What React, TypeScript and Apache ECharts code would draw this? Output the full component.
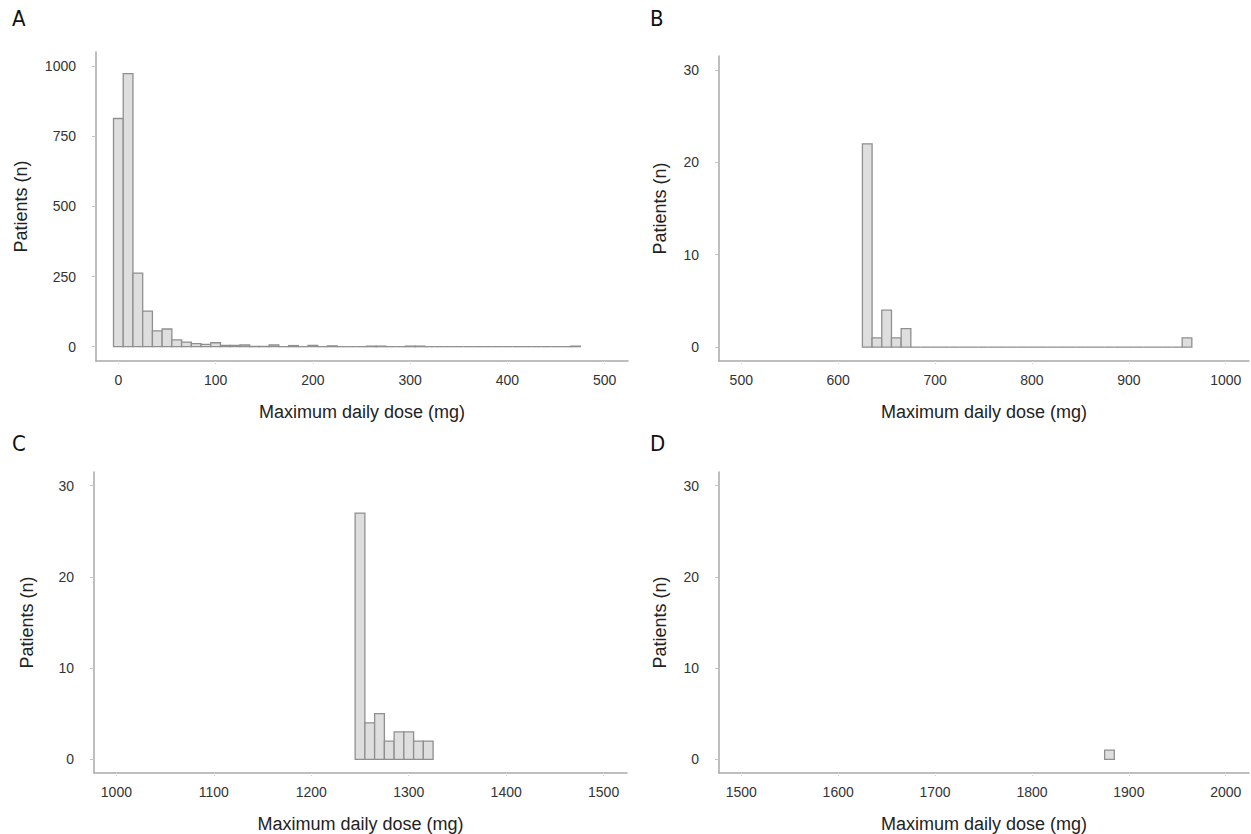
import React, { useEffect, useRef } from "react";
import * as echarts from "echarts";

// Histogram data: bin width 10 mg, bins given by their centre (first bin) and counts
const binWidth = 10;

// Panel A: bins centred at 0, 10, 20, ... 470 mg
const startA = 0;
const countsA = [
  813, 973, 262, 127, 56, 63, 24, 16, 11, 8,
  14, 5, 5, 6, 1, 1, 6, 0, 4, 0,
  5, 0, 3, 0, 0, 0, 2, 2, 0, 0,
  2, 2, 0, 0, 0, 0, 0, 0, 0, 0,
  0, 0, 0, 0, 0, 0, 0, 2,
];

// Panel B: bins centred at 630 ... 960 mg
const startB = 630;
const countsB = [
  22, 1, 4, 1, 2, 0, 0, 0, 0, 0,
  0, 0, 0, 0, 0, 0, 0, 0, 0, 0,
  0, 0, 0, 0, 0, 0, 0, 0, 0, 0,
  0, 0, 0, 1,
];

// Panel C: bins centred at 1250 ... 1320 mg
const startC = 1250;
const countsC = [27, 4, 5, 2, 3, 3, 2, 2];

// Panel D: a single bin centred at 1880 mg
const startD = 1880;
const countsD = [1];

const xTicksA = [0, 100, 200, 300, 400, 500];
const xTicksB = [500, 600, 700, 800, 900, 1000];
const xTicksC = [1000, 1100, 1200, 1300, 1400, 1500];
const xTicksD = [1500, 1600, 1700, 1800, 1900, 2000];
const yTicksA = [0, 250, 500, 750, 1000];
const yTicksBCD = [0, 10, 20, 30];

const panelLetters = ["A", "B", "C", "D"];
const xTitle = "Maximum daily dose (mg)";
const yTitle = "Patients (n)";

const FONT = "'Liberation Sans', Arial, sans-serif";
const LETTER_FONT = "'Liberation Sans Narrow', 'DejaVu Sans Condensed', 'Liberation Sans', sans-serif";
const AXIS_COLOR = "#a9a9a9";
const BAR_FILL = "#dedede";
const BAR_STROKE = "#8f8f8f";

function toBins(start: number, counts: number[]) {
  return counts.map((c, i) => [start + i * binWidth, c]);
}

function renderBin(params: any, api: any) {
  const c = api.value(0) as number;
  const v = api.value(1) as number;
  const p0 = api.coord([c - binWidth / 2, 0]);
  const p1 = api.coord([c + binWidth / 2, v]);
  if (v === 0) {
    return {
      type: "line",
      shape: { x1: p0[0], y1: p0[1], x2: p1[0], y2: p0[1] },
      style: { stroke: BAR_STROKE, lineWidth: 1.3 },
    };
  }
  return {
    type: "rect",
    shape: { x: p0[0], y: p1[1], width: p1[0] - p0[0], height: p0[1] - p1[1] },
    style: { fill: BAR_FILL, stroke: BAR_STROKE, lineWidth: 1.3 },
  };
}

const plain = (v: number) => String(v);

function xAxisFor(gridIndex: number, ticks: number[]) {
  const span = ticks[ticks.length - 1] - ticks[0];
  return {
    type: "value" as const,
    gridIndex,
    min: ticks[0] - span * 0.046,
    max: ticks[ticks.length - 1] + span * 0.048,
    name: xTitle,
    nameLocation: "middle" as const,
    nameGap: 42,
    nameTextStyle: { fontFamily: FONT, fontSize: 18, color: "#222" },
    splitLine: { show: false },
    axisLine: { show: true, onZero: false, lineStyle: { color: AXIS_COLOR, width: 1.5 } },
    axisTick: {
      show: true,
      customValues: ticks,
      length: 4,
      lineStyle: { color: "#cfcfcf", width: 1, type: "dotted" as const },
    },
    axisLabel: {
      customValues: ticks,
      formatter: plain,
      fontFamily: FONT,
      fontSize: 14,
      color: "#333",
      margin: 12,
    },
  };
}

function yAxisFor(gridIndex: number, ticks: number[], min: number, max: number, nameGap: number) {
  return {
    type: "value" as const,
    gridIndex,
    min,
    max,
    name: yTitle,
    nameLocation: "middle" as const,
    nameGap,
    nameTextStyle: { fontFamily: FONT, fontSize: 18, color: "#222" },
    splitLine: { show: false },
    axisLine: { show: true, onZero: false, lineStyle: { color: AXIS_COLOR, width: 1.5 } },
    axisTick: {
      show: true,
      customValues: ticks,
      length: 4,
      lineStyle: { color: "#c4c4c4", width: 1 },
    },
    axisLabel: {
      customValues: ticks,
      formatter: plain,
      fontFamily: FONT,
      fontSize: 14,
      color: "#333",
      margin: 20,
    },
  };
}

export default function App() {
  const ref = useRef<HTMLDivElement>(null);

  useEffect(() => {
    if (!ref.current) return;
    const chart = echarts.init(ref.current, undefined, { renderer: "svg" });

    const grids = [
      { left: 96, top: 52, width: 532, height: 309 },
      { left: 719, top: 56, width: 530, height: 305 },
      { left: 94, top: 472, width: 533, height: 302 },
      { left: 719, top: 472, width: 530, height: 302 },
    ];
    const letterPos = [
      [12, 7],
      [650, 7],
      [12, 432],
      [650, 432],
    ];

    chart.setOption({
      animation: false,
      backgroundColor: "#ffffff",
      title: panelLetters.map((t, i) => ({
        text: t,
        left: letterPos[i][0],
        top: letterPos[i][1],
        padding: 0,
        textStyle: { fontFamily: LETTER_FONT, fontSize: 22, fontWeight: "normal", color: "#111" },
      })),
      grid: grids,
      xAxis: [
        xAxisFor(0, xTicksA),
        xAxisFor(1, xTicksB),
        xAxisFor(2, xTicksC),
        xAxisFor(3, xTicksD),
      ],
      yAxis: [
        yAxisFor(0, yTicksA, -51, 1050, 66),
        yAxisFor(1, yTicksBCD, -1.5, 31.5, 50),
        yAxisFor(2, yTicksBCD, -1.5, 31.5, 58),
        yAxisFor(3, yTicksBCD, -1.5, 31.5, 50),
      ],
      series: [
        { type: "custom", xAxisIndex: 0, yAxisIndex: 0, renderItem: renderBin, data: toBins(startA, countsA) },
        { type: "custom", xAxisIndex: 1, yAxisIndex: 1, renderItem: renderBin, data: toBins(startB, countsB) },
        { type: "custom", xAxisIndex: 2, yAxisIndex: 2, renderItem: renderBin, data: toBins(startC, countsC) },
        { type: "custom", xAxisIndex: 3, yAxisIndex: 3, renderItem: renderBin, data: toBins(startD, countsD) },
      ],
    });

    return () => chart.dispose();
  }, []);

  return (
    <div
      ref={ref}
      style={{ position: "absolute", left: 0, top: 0, width: 1251, height: 834, background: "#fff" }}
    />
  );
}
